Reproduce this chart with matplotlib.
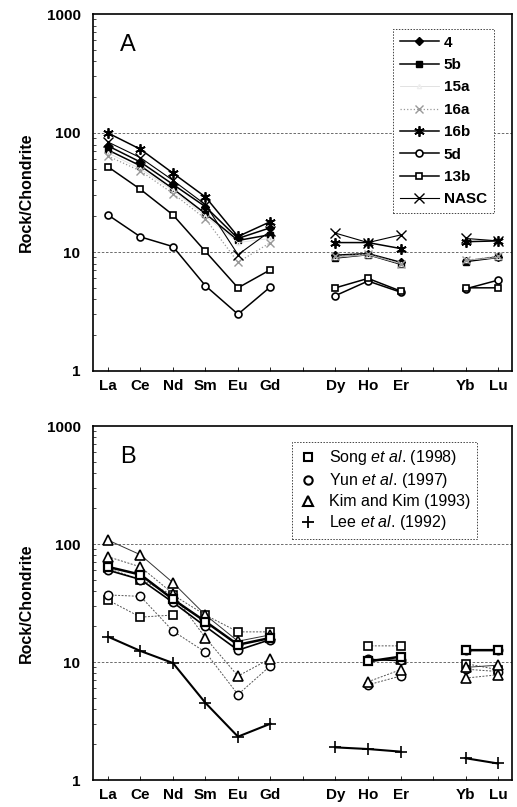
import numpy as np
import matplotlib
matplotlib.use("Agg")
import matplotlib.pyplot as plt
from matplotlib.lines import Line2D

plt.rcParams['font.family'] = ['Liberation Sans', 'DejaVu Sans']
plt.rcParams['mathtext.fontset'] = 'custom'
plt.rcParams['mathtext.rm'] = 'Liberation Sans'
plt.rcParams['mathtext.it'] = 'Liberation Sans:italic'

nan = np.nan

# REE positions (Tb and Tm left blank)
elements = ['La', 'Ce', 'Nd', 'Sm', 'Eu', 'Gd', '', 'Dy', 'Ho', 'Er', '', 'Yb', 'Lu']

# ---- panel A: samples normalised to chondrite
s4 = [78, 57, 37, 24, 13, 16, nan, 9.4, 9.7, 8.2, nan, 8.4, 9.1]
s5b = [72, 53, 34, 21, 12.5, 14, nan, 8.9, 9.5, 7.9, nan, 8.3, 9.0]
s15a = [68, 50, 33, 20, 12, 13, nan, 9.0, 9.5, 8.0, nan, 8.5, 9.0]
s16a = [64, 48, 31, 19, 8.2, 12, nan, 9.2, 9.6, 8.0, nan, 8.5, 9.2]
s16b = [100, 73, 46, 29, 13.5, 18, nan, 12, 12, 10.7, nan, 12.2, 12.4]
s5d = [20.5, 13.4, 11.1, 5.2, 3.0, 5.1, nan, 4.3, 5.7, 4.6, nan, 4.9, 5.8]
s13b = [52, 33.6, 20.5, 10.1, 5.0, 7.1, nan, 5.0, 6.0, 4.7, nan, 5.0, 5.0]
nasc = [84, 62, 40, 25, 9.5, 15, nan, 14.4, 12, 13.9, nan, 13, 12.4]

# ---- panel B: published data
song1 = [64, 55, 34, 22, 14, 16, nan, nan, 10.1, 11.1, nan, 12.6, 12.6]
song2 = [62, 50, 37, 25, 18, 18, nan, nan, 13.7, 13.7, nan, 9.7, 8.6]
song3 = [33.5, 24, 25, nan, nan, nan, nan, nan, nan, nan, nan, nan, nan]
yun1 = [37, 36, 18.3, 12.1, 5.3, 9.3, nan, nan, 6.4, 7.6, nan, 8.7, 8.3]
yun2 = [60, 50, 32, 20, 12.6, 15.5, nan, nan, 10.5, 10.3, nan, 12.6, 12.6]
kim1 = [108, 81, 47, 25, 15, 17, nan, nan, nan, 10.5, nan, 9.0, 9.4]
kim2 = [78, 64, 38, 16, 7.6, 10.7, nan, nan, 6.8, 8.6, nan, 7.3, 7.8]
lee = [16.4, 12.4, 9.8, 4.5, 2.33, 3.0, nan, 1.89, 1.83, 1.74, nan, 1.53, 1.38]

x = np.arange(len(elements))

fig = plt.figure(figsize=(5.17, 8.07), dpi=100)
W, H = 517, 807
axA = fig.add_axes([93 / W, 1 - 371 / H, 419 / W, 357 / H])
axB = fig.add_axes([93 / W, 1 - 780 / H, 419 / W, 354 / H])


def style_axis(ax, letter):
    ax.set_yscale('log')
    ax.set_ylim(1, 1000)
    ax.set_xlim(-0.46, 12.43)
    ax.set_xticks(x)
    ax.set_xticklabels(elements, fontsize=11, fontweight='bold')
    ax.set_yticks([1, 10, 100, 1000])
    ax.set_yticklabels(['1', '10', '100', '1000'], fontsize=11, fontweight='bold')
    ax.tick_params(axis='x', direction='in', length=3, width=0.6, pad=6)
    ax.tick_params(axis='y', which='major', direction='in', length=0, pad=9)
    ax.tick_params(axis='y', which='minor', direction='in', length=2, width=0.5)
    ax.set_ylabel('Rock/Chondrite', fontsize=11.5, fontweight='bold', labelpad=9)
    for y in (10, 100):
        ax.axhline(y, color='#555555', lw=0.6, ls=(0, (3, 2)), zorder=0)
    for sp in ax.spines.values():
        sp.set_linewidth(1.2)
    ax.text(0.065, 0.895, letter, transform=ax.transAxes, fontsize=17)


style_axis(axA, 'A')
style_axis(axB, 'B')

# ---- panel A
axA.plot(x, s4, '-', color='black', lw=1.1, marker='D', ms=4.5, mfc='black', label='4')
axA.plot(x, s5b, '-', color='black', lw=1.1, marker='s', ms=4.5, mfc='black', label='5b')
axA.plot(x, s15a, '-', color='#dddddd', lw=0.6, marker='^', ms=3, mfc='none', mec='#eeeeee', label='15a')
axA.plot(x, s16a, ':', color='#999999', lw=0.9, marker='x', ms=6, mec='#999999', label='16a')
axA.plot(x, s16b, '-', color='black', lw=1.1, marker=(6, 2, 0), ms=7.5, mew=1.3, label='16b')
axA.plot(x, s5d, '-', color='black', lw=1.1, marker='o', ms=5, mfc='white', mew=1.2, label='5d')
axA.plot(x, s13b, '-', color='black', lw=1.1, marker='s', ms=5, mfc='white', mew=1.2, label='13b')
axA.plot(x, nasc, '-', color='black', lw=0.8, marker='x', ms=7, mew=1.0, label='NASC')

legA = axA.legend(loc='upper right', bbox_to_anchor=(0.975, 0.98),
                  prop={'weight': 'bold', 'size': 11}, labelspacing=0.55,
                  handlelength=2.6, handletextpad=0.3, borderpad=0.45,
                  fancybox=False, edgecolor='#444444', framealpha=1)
legA.get_frame().set_linestyle((0, (1.5, 1.5)))
legA.get_frame().set_linewidth(0.7)

# ---- panel B
dot = dict(color='#555555', lw=0.7, ls=(0, (2, 1.5)))
axB.plot(x, song2, marker='s', ms=6, mfc='white', mec='black', mew=1.2, **dot)
axB.plot(x, song3, marker='s', ms=6, mfc='white', mec='black', mew=1.2, **dot)
axB.plot(x, yun1, marker='o', ms=6, mfc='white', mec='black', mew=1.1, **dot)
axB.plot(x, kim2, marker='^', ms=7, mfc='white', mec='black', mew=1.2, **dot)
axB.plot(x, kim1, '-', color='#333333', lw=0.7, marker='^', ms=7, mfc='white', mec='black', mew=1.2)
axB.plot(x, yun2, '-', color='black', lw=1.2, marker='o', ms=6, mfc='white', mec='black', mew=1.2)
axB.plot(x, song1, '-', color='black', lw=1.8, marker='s', ms=6, mfc='white', mec='black', mew=1.6)
axB.plot(x, lee, '-', color='black', lw=1.5, marker='+', ms=9, mew=1.2)

handlesB = [
    Line2D([], [], ls='none', marker='s', ms=6, mfc='white', mec='black', mew=1.5),
    Line2D([], [], ls='none', marker='o', ms=6, mfc='white', mec='black', mew=1.5),
    Line2D([], [], ls='none', marker='^', ms=6.5, mfc='white', mec='black', mew=1.5),
    Line2D([], [], ls='none', marker='+', ms=8, mec='black', mew=1.3),
]
labelsB = [r'Song $\it{et\ al}$. (1998)', r'Yun $\it{et\ al}$. (1997)',
           'Kim and Kim (1993)', r'Lee $\it{et\ al}$. (1992)']
legB = axB.legend(handlesB, labelsB, loc='upper right', bbox_to_anchor=(0.935, 0.978),
                  fontsize=11.5, labelspacing=0.25, handlelength=1.2, handletextpad=0.7,
                  borderpad=0.4, fancybox=False, edgecolor='#444444', framealpha=1)
legB.get_frame().set_linestyle((0, (1.5, 1.5)))
legB.get_frame().set_linewidth(0.7)

fig.savefig('out.png', dpi=100)
plt.close(fig)
